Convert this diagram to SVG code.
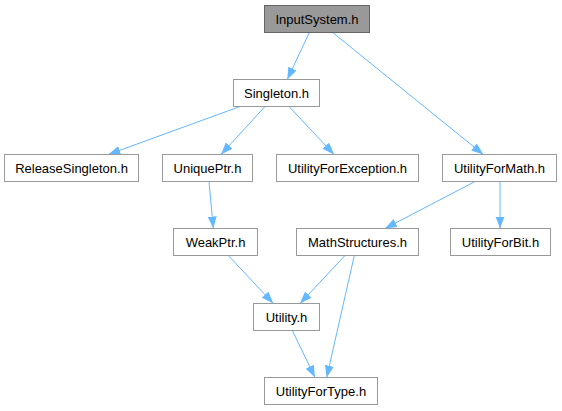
<svg xmlns="http://www.w3.org/2000/svg" width="562" height="411" viewBox="0 0 562 411">
<style>
.n rect{fill:#ffffff;stroke:#999999;stroke-width:1}
.root rect{fill:#999999;stroke:#666666}
.n text{font-family:"Liberation Sans",Arial,sans-serif;font-size:13px;text-anchor:middle;fill:#000000}
.e line{stroke:#63b8ff;stroke-width:1;marker-end:url(#ah)}
</style>
<defs>
<marker id="ah" markerUnits="userSpaceOnUse" markerWidth="13" markerHeight="10" refX="12" refY="4.5" orient="auto">
<path d="M0,0 L12,4.5 L0,9 z" fill="#63b8ff"/>
</marker>
</defs>
<rect width="562" height="411" fill="#ffffff"/>
<g id="edges" class="e">
<line x1="309.3" y1="32.5" x2="287.3" y2="79.5"/>
<line x1="332.7" y1="32.5" x2="483.3" y2="154.5"/>
<line x1="240" y1="106.5" x2="108.3" y2="154.5"/>
<line x1="265" y1="106.5" x2="221" y2="154.5"/>
<line x1="289" y1="106.5" x2="334" y2="154.5"/>
<line x1="209" y1="181.5" x2="213.3" y2="228.5"/>
<line x1="475" y1="181.5" x2="385" y2="228.5"/>
<line x1="500" y1="181.5" x2="500" y2="228.5"/>
<line x1="228.3" y1="255.5" x2="273.3" y2="303.5"/>
<line x1="345" y1="255.5" x2="300" y2="303.5"/>
<line x1="354.3" y1="255.5" x2="326.7" y2="377.5"/>
<line x1="292.3" y1="330.5" x2="315" y2="377.5"/>
</g>
<g id="InputSystem" class="n root"><rect x="264.5" y="5.5" width="105" height="27"/><text x="317" y="23.5">InputSystem.h</text></g>
<g id="Singleton" class="n"><rect x="233.5" y="79.5" width="86" height="27"/><text x="276.5" y="97.5">Singleton.h</text></g>
<g id="ReleaseSingleton" class="n"><rect x="4.5" y="154.5" width="134" height="27"/><text x="71.5" y="172.5">ReleaseSingleton.h</text></g>
<g id="UniquePtr" class="n"><rect x="162.5" y="154.5" width="90" height="27"/><text x="207.5" y="172.5">UniquePtr.h</text></g>
<g id="UtilityForException" class="n"><rect x="276.5" y="154.5" width="142" height="27"/><text x="347.5" y="172.5">UtilityForException.h</text></g>
<g id="UtilityForMath" class="n"><rect x="442.5" y="154.5" width="114" height="27"/><text x="499.5" y="172.5">UtilityForMath.h</text></g>
<g id="WeakPtr" class="n"><rect x="173.5" y="228.5" width="84" height="27"/><text x="215.5" y="246.5">WeakPtr.h</text></g>
<g id="MathStructures" class="n"><rect x="296.5" y="228.5" width="122" height="27"/><text x="357.5" y="246.5">MathStructures.h</text></g>
<g id="UtilityForBit" class="n"><rect x="450.5" y="228.5" width="100" height="27"/><text x="500.5" y="246.5">UtilityForBit.h</text></g>
<g id="Utility" class="n"><rect x="253.5" y="303.5" width="66" height="27"/><text x="286.5" y="321.5">Utility.h</text></g>
<g id="UtilityForType" class="n"><rect x="264.5" y="377.5" width="113" height="27"/><text x="321" y="395.5">UtilityForType.h</text></g>
</svg>
